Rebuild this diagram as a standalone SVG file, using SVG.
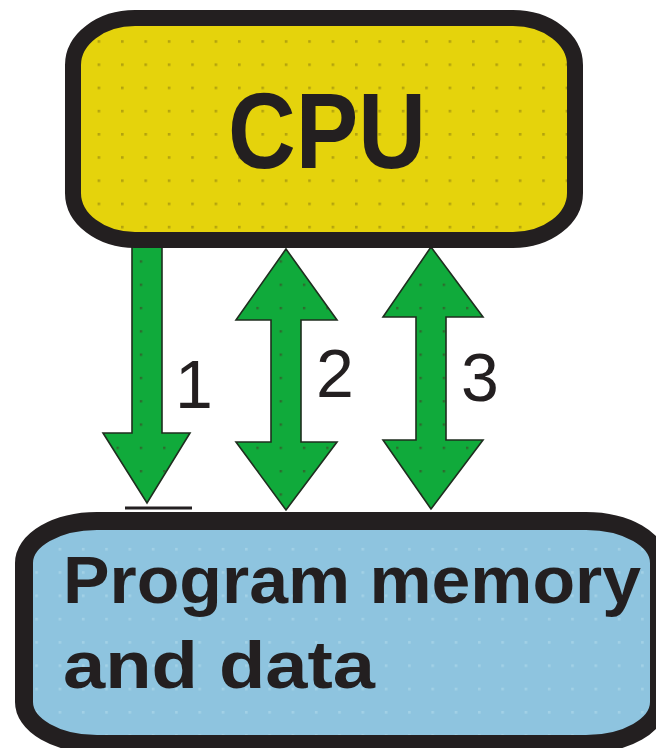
<svg xmlns="http://www.w3.org/2000/svg" width="656" height="748" viewBox="0 0 656 748">
  <defs>
    <pattern id="dotsY" x="4" y="17" width="23.4" height="23.2" patternUnits="userSpaceOnUse">
      <rect width="23.4" height="23.2" fill="#E5D30C"/>
      <rect x="0" y="0" width="2.6" height="2.6" fill="#B3A20E"/>
    </pattern>
    <pattern id="dotsB" x="12" y="12" width="23.3" height="23.3" patternUnits="userSpaceOnUse">
      <rect width="23.3" height="23.3" fill="#8EC4DF"/>
      <rect x="0" y="0" width="2.6" height="2.6" fill="#A3D1E6"/>
    </pattern>
    <pattern id="dotsG" x="0" y="4" width="23.3" height="23.3" patternUnits="userSpaceOnUse">
      <rect width="23.3" height="23.3" fill="#10AA3B"/>
      <rect x="0" y="0" width="2.4" height="2.4" fill="#2E6A2E"/>
    </pattern>
  </defs>
  <style>
    .box { stroke: #231F20; }
    .arrow { fill: url(#dotsG); stroke: #1F2E1F; stroke-width: 1.6; stroke-linejoin: miter; }
    .label { font-family: "Liberation Sans", Arial, sans-serif; fill: #231F20; }
    .num { font-family: "Liberation Sans", Arial, sans-serif; font-size: 68px; fill: #231F20; }
  </style>

  <g id="connectors">
    <g id="arrow1">
      <polygon class="arrow" points="132,244 162,244 162,433 190,433 147,503 103,433 132,433"/>
      <line x1="125" y1="508" x2="192" y2="508" stroke="#231F20" stroke-width="3"/>
    </g>
    <polygon id="arrow2" class="arrow" points="286,249 337,320 301,320 301,442 337,442 286,510 236,442 271,442 271,320 236,320"/>
    <polygon id="arrow3" class="arrow" points="431,247 483,317 446,317 446,440 483,440 431,509 383,440 416,440 416,317 383,317"/>
    <text id="label1" class="num" x="175" y="408">1</text>
    <text id="label2" class="num" x="316" y="397">2</text>
    <text id="label3" class="num" x="461" y="401">3</text>
  </g>

  <g id="cpu">
    <rect class="box" x="73" y="18" width="502" height="222" rx="62" ry="47" fill="url(#dotsY)" stroke-width="16"/>
    <text class="label" x="228" y="168" font-size="107" font-weight="bold" textLength="198" lengthAdjust="spacingAndGlyphs">CPU</text>
  </g>

  <g id="memory">
    <rect class="box" x="24" y="521" width="635" height="223" rx="73" ry="42" fill="url(#dotsB)" stroke-width="18"/>
    <text class="label" x="63" y="603" font-size="67" font-weight="bold" textLength="578" lengthAdjust="spacingAndGlyphs">Program memory</text>
    <text class="label" x="63" y="688" font-size="67" font-weight="bold" textLength="312" lengthAdjust="spacingAndGlyphs">and data</text>
  </g>
</svg>
